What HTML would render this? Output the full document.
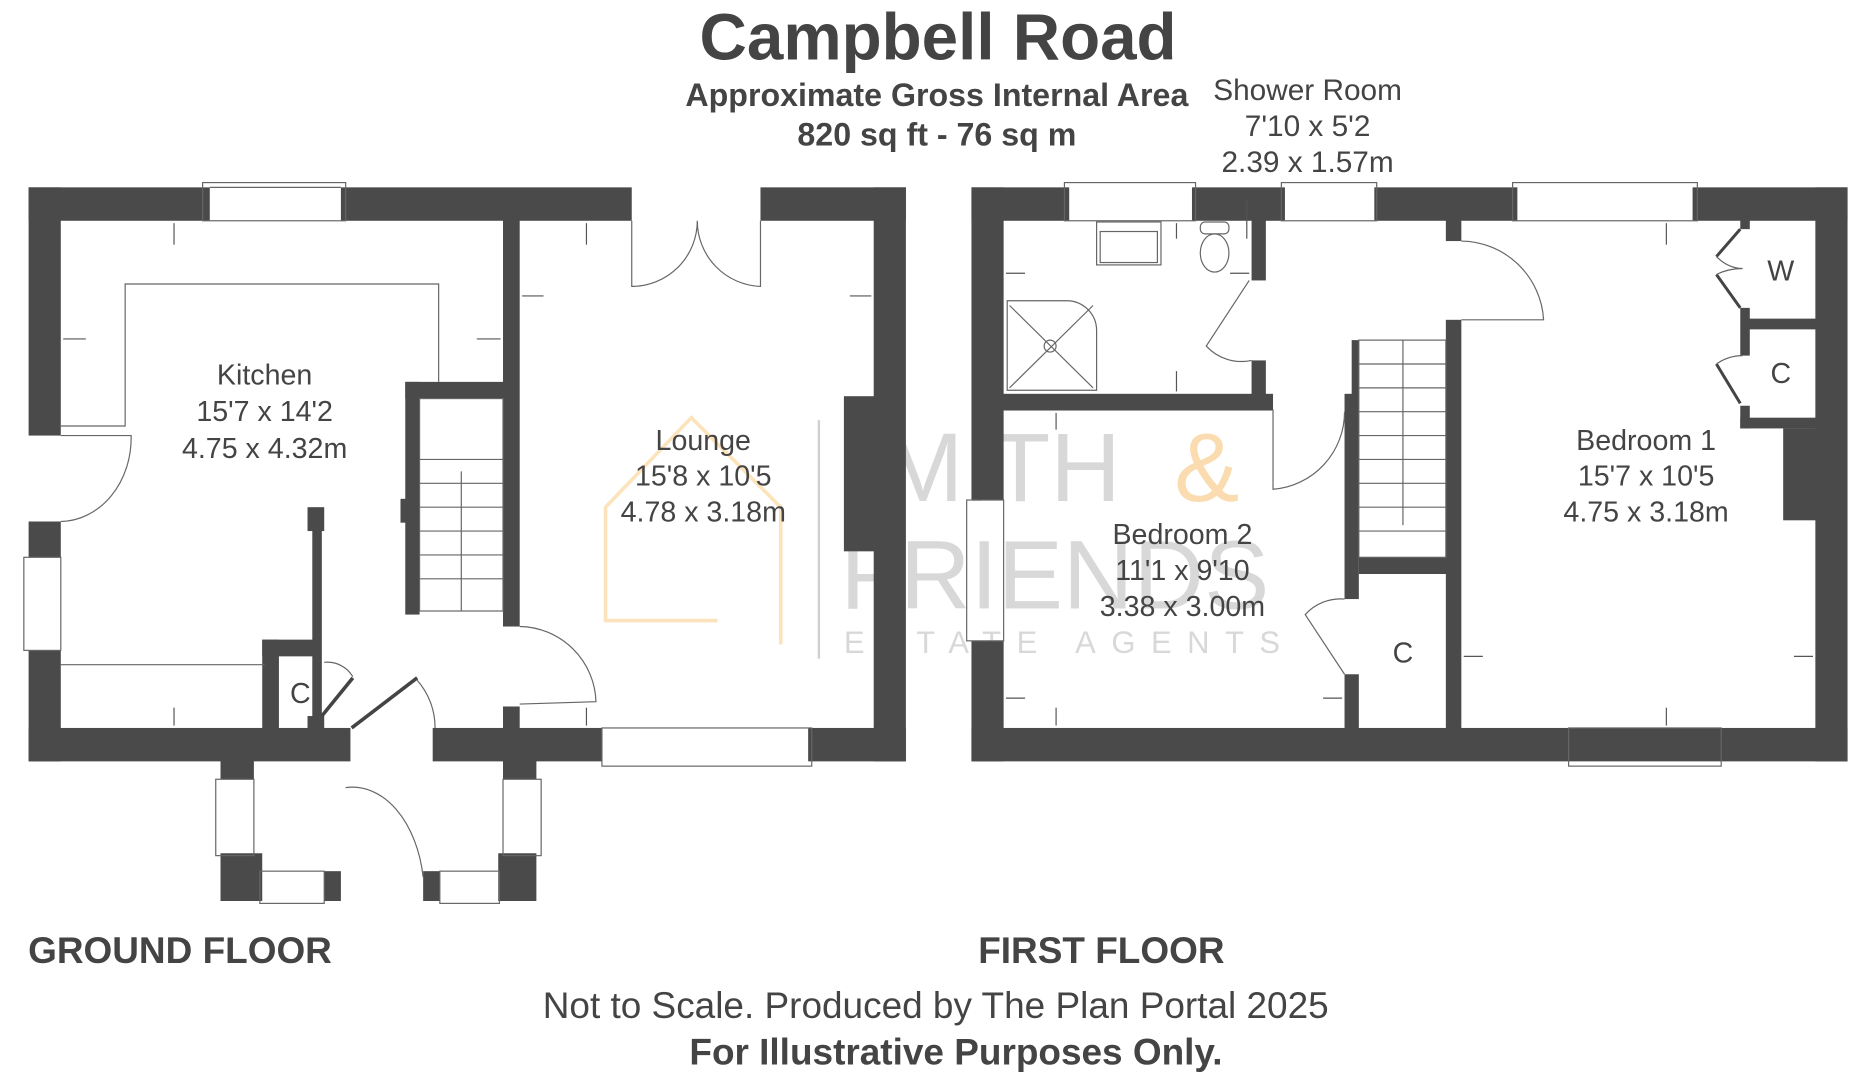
<!DOCTYPE html>
<html><head><meta charset="utf-8"><style>
html,body{margin:0;padding:0;background:#fff;}
svg{display:block;}
text{font-family:"Liberation Sans",Arial,sans-serif;}
</style></head><body>
<svg width="1869" height="1080" viewBox="0 0 1568 905" preserveAspectRatio="none" xmlns="http://www.w3.org/2000/svg">
<rect width="1568" height="905" fill="#fff"/>
<!-- watermark -->
<g opacity="0.9">
<line x1="687" y1="352" x2="687" y2="552" stroke="#ccc" stroke-width="2"/>
<text x="740" y="420" font-family="Liberation Serif,serif" font-size="82" fill="#d4d4d4">MITH</text>
<text x="985" y="420" font-family="Liberation Serif,serif" font-size="82" fill="#fbd9a8">&amp;</text>
<text x="705" y="510" font-family="Liberation Serif,serif" font-size="82" fill="#d4d4d4">FRIENDS</text>
<text x="708" y="547" font-size="26" fill="#d4d4d4" letter-spacing="13">ESTATE AGENTS</text>
<polyline points="602,520 508,520 508,425 580,350 655,425 655,540" fill="none" stroke="#fde0b4" stroke-width="3"/>
</g>
<g fill="#4a4a4a">
<!-- GROUND FLOOR -->
<rect x="24" y="157" width="152" height="28"/>
<rect x="286" y="157" width="244" height="28"/>
<rect x="638" y="157" width="122" height="28"/>
<rect x="24" y="157" width="27" height="208"/>
<rect x="24" y="437" width="27" height="30"/>
<rect x="24" y="545" width="27" height="93"/>
<rect x="733" y="157" width="27" height="481"/>
<rect x="708" y="332" width="27" height="130"/>
<rect x="24" y="610" width="270" height="28"/>
<rect x="363" y="610" width="142" height="28"/>
<rect x="678" y="610" width="82" height="28"/>
<rect x="422" y="182" width="14" height="343"/>
<rect x="422" y="592" width="14" height="20"/>
<rect x="340" y="320" width="84" height="14"/>
<rect x="340" y="320" width="12" height="195"/>
<rect x="336" y="418" width="6" height="20"/>
<rect x="258" y="425" width="14" height="20"/>
<rect x="262" y="440" width="8" height="170"/>
<rect x="220" y="536" width="48" height="14"/>
<rect x="220" y="536" width="14" height="76"/>
<rect x="258" y="600" width="14" height="12"/>
<rect x="185" y="625" width="28" height="28"/>
<rect x="422" y="625" width="28" height="28"/>
<rect x="185" y="715" width="35" height="40"/>
<rect x="272" y="730" width="14" height="25"/>
<rect x="355" y="730" width="14" height="25"/>
<rect x="418" y="715" width="32" height="40"/>
<!-- FIRST FLOOR -->
<rect x="815" y="157" width="82" height="28"/>
<rect x="1000" y="157" width="78" height="28"/>
<rect x="1153" y="157" width="120" height="28"/>
<rect x="1420" y="157" width="130" height="28"/>
<rect x="815" y="157" width="27" height="262"/>
<rect x="815" y="537" width="27" height="101"/>
<rect x="1523" y="157" width="27" height="481"/>
<rect x="1496" y="359" width="28" height="77"/>
<rect x="815" y="610" width="735" height="28"/>
<rect x="840" y="330" width="228" height="14"/>
<rect x="1050" y="182" width="12" height="53"/>
<rect x="1050" y="302" width="12" height="30"/>
<rect x="1128" y="330" width="12" height="172"/>
<rect x="1128" y="565" width="12" height="47"/>
<rect x="1140" y="467" width="74" height="14"/>
<rect x="1134" y="285" width="6" height="50"/>
<rect x="1213" y="182" width="13" height="20"/>
<rect x="1213" y="268" width="13" height="344"/>
<rect x="1460" y="182" width="8" height="10"/>
<rect x="1460" y="258" width="8" height="40"/>
<rect x="1462" y="267" width="62" height="9"/>
<rect x="1460" y="340" width="8" height="19"/>
<rect x="1460" y="350" width="64" height="9"/>
</g>
<g fill="none" stroke="#666" stroke-width="1">
<!-- windows -->
<rect x="170" y="153" width="120" height="32"/><line x1="176" y1="157" x2="286" y2="157"/>
<rect x="505" y="610" width="176" height="32"/>
<rect x="20" y="467" width="31" height="78"/>
<rect x="181" y="653" width="32" height="64"/><rect x="422" y="653" width="32" height="64"/>
<rect x="218" y="730" width="54" height="27"/><rect x="369" y="730" width="50" height="27"/>
<rect x="893" y="153" width="110" height="32"/><rect x="1075" y="153" width="80" height="32"/>
<rect x="1269" y="153" width="155" height="32"/><rect x="1316" y="610" width="128" height="32"/>
<rect x="811" y="419" width="31" height="118"/>
<!-- kitchen counters -->
<polyline points="51,357 105,357 105,238 368,238 368,320"/>
<line x1="51" y1="557" x2="222" y2="557"/>
<!-- doors -->
<path d="M51,365 L110,365 A60,70 0 0 1 51,437"/>
<path d="M530,185 L530,240 A55,55 0 0 0 585,185 A55,55 0 0 0 638,240 L638,185"/>
<path d="M436,525 A65,65 0 0 1 500,588 L436,590"/>
<path d="M350,570 A60,60 0 0 1 365,610"/>
<line x1="350" y1="568" x2="295" y2="610" stroke="#444" stroke-width="3"/>
<path d="M290,660 A60,90 0 0 1 355,735"/>
<path d="M272,555 A25,25 0 0 1 296,567"/>
<line x1="296" y1="568" x2="270" y2="600" stroke="#444" stroke-width="3"/>
<!-- stairs -->
<rect x="352" y="334" width="70" height="178"/>
<line x1="352" y1="385" x2="422" y2="385"/><line x1="352" y1="405" x2="422" y2="405"/><line x1="352" y1="425" x2="422" y2="425"/><line x1="352" y1="445" x2="422" y2="445"/><line x1="352" y1="465" x2="422" y2="465"/><line x1="352" y1="485" x2="422" y2="485"/>
<line x1="387" y1="395" x2="387" y2="512"/>
<rect x="1140" y="285" width="73" height="182"/>
<line x1="1140" y1="305" x2="1213" y2="305"/><line x1="1140" y1="325" x2="1213" y2="325"/><line x1="1140" y1="345" x2="1213" y2="345"/><line x1="1140" y1="365" x2="1213" y2="365"/><line x1="1140" y1="385" x2="1213" y2="385"/><line x1="1140" y1="405" x2="1213" y2="405"/><line x1="1140" y1="425" x2="1213" y2="425"/><line x1="1140" y1="445" x2="1213" y2="445"/>
<line x1="1177" y1="285" x2="1177" y2="440"/>
<!-- first floor doors -->
<path d="M1226,202 A70,70 0 0 1 1295,268 L1226,268"/>
<path d="M1048,235 L1012,290 A40,40 0 0 0 1050,302" />
<path d="M1068,343 L1068,410 A65,65 0 0 0 1128,345"/>
<path d="M1128,502 A40,40 0 0 0 1095,515 L1128,565"/>
<g stroke="#444" stroke-width="2.5"><polyline points="1460,192 1440,215"/><polyline points="1440,230 1460,258"/><polyline points="1440,305 1460,338"/></g>
<path d="M1440,215 Q1450,225 1462,225 Q1450,225 1440,230"/>
<path d="M1440,305 Q1450,298 1462,298"/>
<!-- bathroom -->
<rect x="920" y="186" width="54" height="36"/><rect x="923" y="194" width="48" height="26"/>
<ellipse cx="1019" cy="212" rx="12" ry="16"/><rect x="1007" y="186" width="24" height="10" rx="4"/>
<path d="M845,252 L895,252 A25,25 0 0 1 920,277 L920,327 L845,327 Z"/>
<line x1="847" y1="256" x2="917" y2="325"/><line x1="917" y1="256" x2="847" y2="325"/>
<circle cx="881" cy="290" r="5"/>
</g>
<!-- small arrows -->
<g stroke="#555" stroke-width="1" fill="#555">
<line x1="146" y1="187" x2="146" y2="205"/><line x1="146" y1="593" x2="146" y2="608"/>
<line x1="53" y1="284" x2="72" y2="284"/><line x1="400" y1="284" x2="420" y2="284"/>
<line x1="492" y1="187" x2="492" y2="205"/><line x1="438" y1="248" x2="456" y2="248"/><line x1="713" y1="248" x2="731" y2="248"/>
<line x1="492" y1="593" x2="492" y2="608"/>
<line x1="987" y1="187" x2="987" y2="200"/><line x1="844" y1="229" x2="860" y2="229"/><line x1="1032" y1="229" x2="1048" y2="229"/>
<line x1="987" y1="311" x2="987" y2="328"/><line x1="886" y1="346" x2="886" y2="360"/>
<line x1="844" y1="585" x2="860" y2="585"/><line x1="1110" y1="585" x2="1126" y2="585"/><line x1="886" y1="593" x2="886" y2="608"/>
<line x1="1398" y1="187" x2="1398" y2="205"/><line x1="1398" y1="593" x2="1398" y2="608"/>
<line x1="1228" y1="550" x2="1244" y2="550"/><line x1="1505" y1="550" x2="1521" y2="550"/>
<line x1="1046" y1="168" x2="1046" y2="200"/>
</g>
<!-- text -->
<g fill="#444" text-anchor="middle">
<text x="787" y="50" font-size="55" font-weight="bold">Campbell Road</text>
<text x="786" y="89" font-size="27" font-weight="bold">Approximate Gross Internal Area</text>
<text x="786" y="122" font-size="27" font-weight="bold">820 sq ft - 76 sq m</text>
<text x="1097" y="84" font-size="25">Shower Room</text>
<text x="1097" y="114" font-size="25">7'10 x 5'2</text>
<text x="1097" y="144" font-size="25">2.39 x 1.57m</text>
<g font-size="24">
<text x="222" y="322">Kitchen</text><text x="222" y="353">15'7 x 14'2</text><text x="222" y="384">4.75 x 4.32m</text>
<text x="590" y="377">Lounge</text><text x="590" y="407">15'8 x 10'5</text><text x="590" y="437">4.78 x 3.18m</text>
<text x="992" y="456">Bedroom 2</text><text x="992" y="486">11'1 x 9'10</text><text x="992" y="516">3.38 x 3.00m</text>
<text x="1381" y="377">Bedroom 1</text><text x="1381" y="407">15'7 x 10'5</text><text x="1381" y="437">4.75 x 3.18m</text>
<text x="252" y="589">C</text><text x="1177" y="555">C</text><text x="1494" y="235">W</text><text x="1494" y="321">C</text>
</g>
<text x="151" y="807" font-size="31" font-weight="bold">GROUND FLOOR</text>
<text x="924" y="807" font-size="31" font-weight="bold">FIRST FLOOR</text>
<text x="785" y="853" font-size="31">Not to Scale. Produced by The Plan Portal 2025</text>
<text x="802" y="892" font-size="31" font-weight="bold">For Illustrative Purposes Only.</text>
</g>
</svg>
</body></html>
